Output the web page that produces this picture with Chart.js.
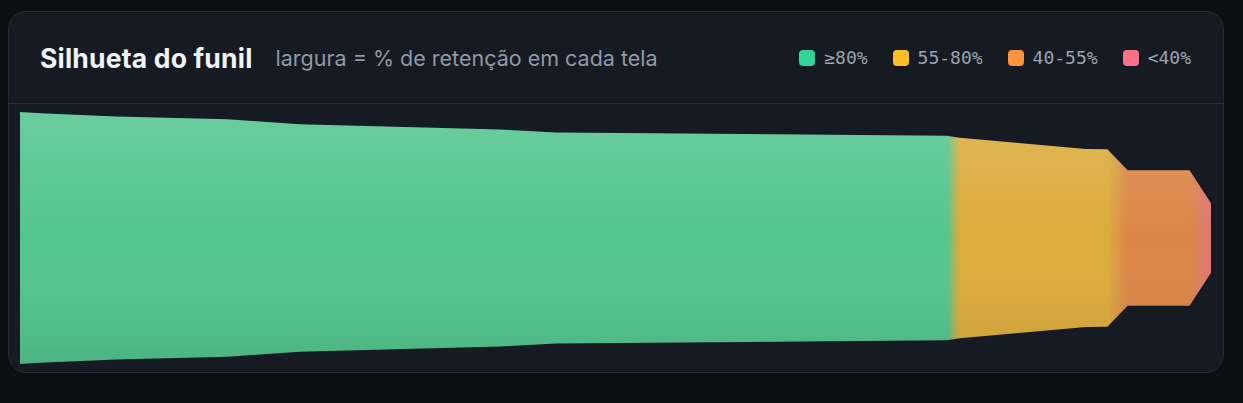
<!DOCTYPE html>
<html lang="pt-BR">
<head>
<meta charset="utf-8">
<title>Silhueta do funil</title>
<script src="https://cdn.jsdelivr.net/npm/chart.js@4.4.1/dist/chart.umd.min.js"></script>
<style>
    html, body {
        margin: 0;
        padding: 0;
        background: #0b0e12;
        width: 1243px;
        height: 403px;
        overflow: hidden;
    }
    .card {
        position: absolute;
        left: 8px;
        top: 11px;
        width: 1216px;
        height: 362px;
        box-sizing: border-box;
        background: #161b23;
        border: 1px solid #252b36;
        border-radius: 18px;
        display: flex;
        flex-direction: column;
        overflow: hidden;
    }
    .header {
        height: 91px;
        border-bottom: 1px solid #252b36;
        display: flex;
        align-items: center;
        padding: 0 32px 0 31px;
        box-sizing: content-box;
    }
    .titulo {
        font-family: Inter, "Noto Sans", sans-serif;
        font-weight: 700;
        font-size: 26.5px;
        color: #f1f3f6;
        margin-right: 23px;
        letter-spacing: 0.2px;
    }
    .subtitulo {
        font-family: Inter, "Noto Sans", sans-serif;
        font-size: 21.5px;
        color: #8f99a6;
    }
    .legenda {
        margin-left: auto;
        display: flex;
        align-items: center;
        font-family: "DejaVu Sans Mono", monospace;
        font-size: 18px;
        color: #9ba3ae;
    }
    .item {
        display: flex;
        align-items: center;
        margin-left: 25px;
    }
    .item:first-child { margin-left: 0; }
    .quadrado {
        width: 16px;
        height: 16px;
        border-radius: 4px;
        margin-right: 9px;
    }
    .grafico {
        position: relative;
        flex: 1;
    }
</style>
</head>
<body>
<div class="card">
    <div class="header">
        <span class="titulo">Silhueta do funil</span>
        <span class="subtitulo">largura = % de retenção em cada tela</span>
        <div class="legenda" id="legenda"></div>
    </div>
    <div class="grafico">
        <canvas id="grafica"></canvas>
    </div>
</div>

<script>
// progresso ao longo do fluxo (%) e retenção (%) em cada ponto
const progresso = [0, 1.7, 8.1, 17.4, 23.5, 40.3, 45.0, 61.0, 77.8, 78.9, 89.5, 91.3, 93.0, 98.2, 100];
const retencao = [100, 99.0, 96.4, 94.2, 90.2, 86.2, 83.8, 82.5, 81.1, 79.6, 70.6, 70.5, 53.8, 53.8, 27.5];

// faixas da legenda
const faixas = ['≥80%', '55-80%', '40-55%', '<40%'];
const limites = [80, 55, 40, -Infinity];
const coresLegenda = ['#34d399', '#fbbf24', '#fb923c', '#fb7185'];
const coresPreenchimento = ['#52c58e', '#dcac3c', '#da8648', '#de7676'];

function faixaDe(valor) {
    return limites.findIndex(l => valor >= l);
}

const legenda = document.getElementById('legenda');
faixas.forEach((nome, i) => {
    legenda.innerHTML += `<div class="item"><span class="quadrado" style="background:${coresLegenda[i]}"></span>${nome}</div>`;
});

function gradienteHorizontal(context) {
    const chart = context.chart;
    const area = chart.chartArea;
    if (!area) return coresPreenchimento[0];
    const g = chart.ctx.createLinearGradient(area.left, 0, area.right, 0);
    const min = progresso[0];
    const max = progresso[progresso.length - 1];
    progresso.forEach((p, i) => {
        g.addColorStop((p - min) / (max - min), coresPreenchimento[faixaDe(retencao[i])]);
    });
    return g;
}

// clareia o topo e escurece a base da silhueta
const sombreado = {
    id: 'sombreado',
    afterDatasetsDraw(chart) {
        const { ctx, chartArea } = chart;
        ctx.save();
        ctx.globalCompositeOperation = 'source-atop';
        const g = ctx.createLinearGradient(0, chartArea.top, 0, chartArea.bottom);
        g.addColorStop(0, 'rgba(255,255,255,0.14)');
        g.addColorStop(0.5, 'rgba(255,255,255,0)');
        g.addColorStop(1, 'rgba(0,0,0,0.09)');
        ctx.fillStyle = g;
        ctx.fillRect(chartArea.left - 2, chartArea.top - 2, chartArea.width + 4, chartArea.height + 4);
        ctx.restore();
    }
};

const ctx = document.getElementById('grafica').getContext('2d');
new Chart(ctx, {
    type: 'line',
    data: {
        datasets: [
            {
                data: progresso.map((p, i) => ({ x: p, y: retencao[i] / 2 })),
                fill: '+1',
                backgroundColor: gradienteHorizontal,
                borderColor: 'transparent',
                borderWidth: 0,
                pointRadius: 0,
                tension: 0,
                clip: false
            },
            {
                data: progresso.map((p, i) => ({ x: p, y: -retencao[i] / 2 })),
                fill: false,
                borderColor: 'transparent',
                borderWidth: 0,
                pointRadius: 0,
                tension: 0,
                clip: false
            }
        ]
    },
    options: {
        responsive: true,
        maintainAspectRatio: false,
        animation: false,
        layout: { padding: { left: 11, right: 12, top: 8, bottom: 8 } },
        plugins: {
            legend: { display: false },
            tooltip: { enabled: false }
        },
        scales: {
            x: { type: 'linear', min: 0, max: 100, display: false },
            y: { min: -50, max: 50, display: false }
        }
    },
    plugins: [sombreado]
});
</script>
</body>
</html>
